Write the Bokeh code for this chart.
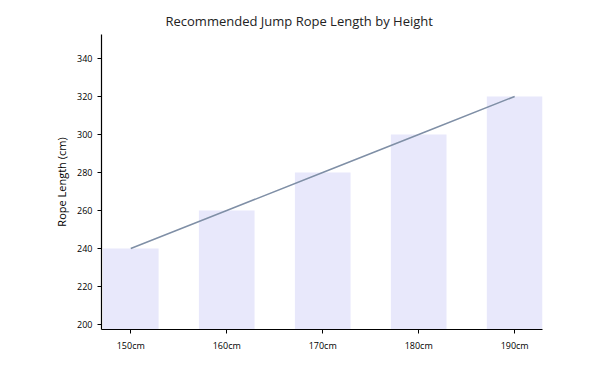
from bokeh.plotting import figure
from bokeh.models import Range1d, FixedTicker
from bokeh.embed import file_html
from bokeh.resources import INLINE

heights = ["150cm", "160cm", "170cm", "180cm", "190cm"]
rope_length = [240, 260, 280, 300, 320]
y_ticks = [200, 220, 240, 260, 280, 300, 320, 340]

xs = list(range(len(heights)))

p = figure(width=603, height=361, output_backend="svg", toolbar_location=None,
           x_range=Range1d(-0.305, 4.29), y_range=Range1d(197.4, 352.6),
           min_border_left=101, min_border_right=61, min_border_top=34, min_border_bottom=32)

p.vbar(x=xs, top=rope_length, bottom=0, width=0.58, fill_color="#E8E8FB", line_color=None)
p.line(x=xs, y=rope_length, line_color="#7F8FA6", line_width=1.5)

p.title.text = "Recommended Jump Rope Length by Height"
p.title.align = "left"
p.title.offset = 64
p.title.text_font = "Open Sans"
p.title.text_font_size = "13px"
p.title.text_font_style = "normal"
p.title.text_color = "#222222"

p.xgrid.visible = False
p.ygrid.visible = False
p.outline_line_color = None

for ax in (p.xaxis[0], p.yaxis[0]):
    ax.axis_line_color = "#000000"
    ax.axis_line_width = 1.2
    ax.major_tick_line_color = "#000000"
    ax.major_tick_out = 4
    ax.major_tick_in = 0
    ax.minor_tick_line_color = None
    ax.major_label_text_font = "Open Sans"
    ax.major_label_text_font_size = "9px"
    ax.major_label_text_color = "#000000"

p.xaxis.ticker = FixedTicker(ticks=xs)
p.xaxis.major_label_overrides = {i: h for i, h in enumerate(heights)}
p.yaxis.ticker = FixedTicker(ticks=y_ticks)
p.yaxis.axis_label = "Rope Length (cm)"
p.yaxis.axis_label_text_font = "Open Sans"
p.yaxis.axis_label_text_font_size = "11px"
p.yaxis.axis_label_text_font_style = "normal"
p.yaxis.axis_label_text_color = "#000000"

open("out.html", "w").write(file_html(p, INLINE))
